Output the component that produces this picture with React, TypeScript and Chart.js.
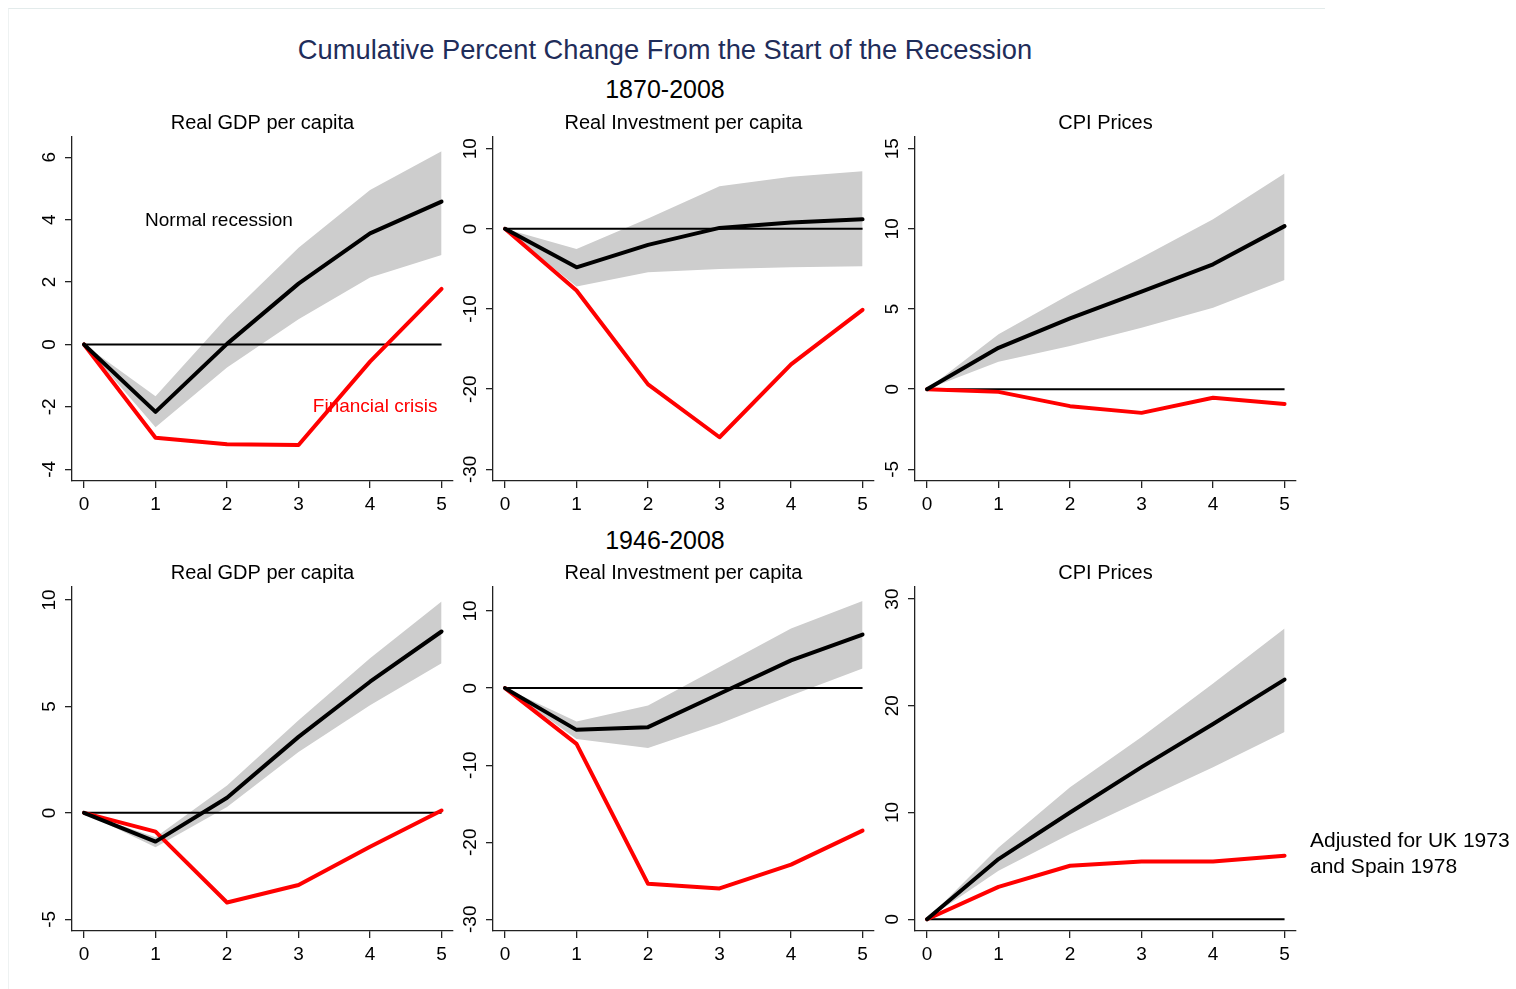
import React, { useEffect, useRef } from "react";
import { Chart, registerables } from "chart.js";

Chart.register(...registerables);

const FONT = '"Liberation Sans", Arial, Helvetica, sans-serif';

// Years since the start of the recession
const HORIZON = [0, 1, 2, 3, 4, 5];
const X_TICKS = [0, 1, 2, 3, 4, 5];
const ZERO = [0, 0, 0, 0, 0, 0];

// 1870-2008: real GDP per capita
const GDP_A_NORMAL = [0, -2.16, 0.02, 1.95, 3.56, 4.58];
const GDP_A_LOW = [0, -2.65, -0.74, 0.81, 2.15, 2.87];
const GDP_A_HIGH = [0, -1.66, 0.87, 3.1, 4.95, 6.19];
const GDP_A_CRISIS = [0, -2.99, -3.2, -3.22, -0.55, 1.78];
const GDP_A_TICKS = [-4, -2, 0, 2, 4, 6];

// 1870-2008: real investment per capita
const INV_A_NORMAL = [0, -4.8, -2.0, 0.12, 0.8, 1.2];
const INV_A_LOW = [0, -7.2, -5.4, -5.0, -4.8, -4.67];
const INV_A_HIGH = [0, -2.5, 1.3, 5.3, 6.5, 7.2];
const INV_A_CRISIS = [0, -7.7, -19.4, -26.0, -16.9, -10.1];
const INV_TICKS = [-30, -20, -10, 0, 10];

// 1870-2008: CPI prices
const CPI_A_NORMAL = [0, 2.58, 4.42, 6.08, 7.79, 10.17];
const CPI_A_LOW = [0, 1.71, 2.69, 3.83, 5.08, 6.81];
const CPI_A_HIGH = [0, 3.42, 5.92, 8.21, 10.6, 13.46];
const CPI_A_CRISIS = [0, -0.17, -1.06, -1.48, -0.54, -0.92];
const CPI_A_TICKS = [-5, 0, 5, 10, 15];

// 1946-2008: real GDP per capita
const GDP_B_NORMAL = [0, -1.35, 0.71, 3.57, 6.16, 8.52];
const GDP_B_LOW = [0, -1.62, 0.27, 2.86, 5.06, 7.03];
const GDP_B_HIGH = [0, -1.15, 1.29, 4.35, 7.26, 9.93];
const GDP_B_CRISIS = [0, -0.88, -4.21, -3.39, -1.59, 0.11];
const GDP_B_TICKS = [-5, 0, 5, 10];

// 1946-2008: real investment per capita
const INV_B_NORMAL = [0, -5.42, -5.07, -0.74, 3.6, 6.95];
const INV_B_LOW = [0, -6.59, -7.76, -4.64, -0.95, 2.53];
const INV_B_HIGH = [0, -4.34, -2.25, 2.73, 7.73, 11.29];
const INV_B_CRISIS = [0, -7.24, -25.4, -26.0, -22.9, -18.5];

// 1946-2008: CPI prices
const CPI_B_NORMAL = [0, 5.64, 10.0, 14.25, 18.3, 22.45];
const CPI_B_LOW = [0, 4.54, 7.99, 11.12, 14.25, 17.54];
const CPI_B_HIGH = [0, 6.73, 12.37, 17.07, 22.08, 27.25];
const CPI_B_CRISIS = [0, 3.04, 5.01, 5.41, 5.41, 5.95];
const CPI_B_TICKS = [0, 10, 20, 30];

type Note = { text: string; x: number; y: number; color: string };

type PanelCfg = {
  title: string;
  normal: number[];
  low: number[];
  high: number[];
  crisis: number[];
  yTicks: number[];
  yMin: number;
  yMax: number;
  left: number;
  top: number;
  notes?: Note[];
};

const PANELS: PanelCfg[] = [
  {
    title: "Real GDP per capita",
    normal: GDP_A_NORMAL, low: GDP_A_LOW, high: GDP_A_HIGH, crisis: GDP_A_CRISIS,
    yTicks: GDP_A_TICKS, yMin: -4.376, yMax: 6.65, left: 0, top: 97,
    notes: [
      { text: "Normal recession", x: 0.853, y: 3.95, color: "#000000" },
      { text: "Financial crisis", x: 3.2, y: -2.0, color: "#ff0000" },
    ],
  },
  {
    title: "Real Investment per capita",
    normal: INV_A_NORMAL, low: INV_A_LOW, high: INV_A_HIGH, crisis: INV_A_CRISIS,
    yTicks: INV_TICKS, yMin: -31.46, yMax: 11.46, left: 421, top: 97,
  },
  {
    title: "CPI Prices",
    normal: CPI_A_NORMAL, low: CPI_A_LOW, high: CPI_A_HIGH, crisis: CPI_A_CRISIS,
    yTicks: CPI_A_TICKS, yMin: -5.73, yMax: 15.73, left: 843, top: 97,
  },
  {
    title: "Real GDP per capita",
    normal: GDP_B_NORMAL, low: GDP_B_LOW, high: GDP_B_HIGH, crisis: GDP_B_CRISIS,
    yTicks: GDP_B_TICKS, yMin: -5.55, yMax: 10.61, left: 0, top: 547,
  },
  {
    title: "Real Investment per capita",
    normal: INV_B_NORMAL, low: INV_B_LOW, high: INV_B_HIGH, crisis: INV_B_CRISIS,
    yTicks: INV_TICKS, yMin: -31.52, yMax: 13.12, left: 421, top: 547,
  },
  {
    title: "CPI Prices",
    normal: CPI_B_NORMAL, low: CPI_B_LOW, high: CPI_B_HIGH, crisis: CPI_B_CRISIS,
    yTicks: CPI_B_TICKS, yMin: -1.1, yMax: 31.13, left: 843, top: 547,
  },
];

const CANVAS_W = 473;
const CANVAS_H = 428;
const AXIS_W = 72;
const AXIS_H = 40;

const toPoints = (ys: number[]) => HORIZON.map((x, i) => ({ x, y: ys[i] }));

function Panel({ cfg }: { cfg: PanelCfg }) {
  const ref = useRef<HTMLCanvasElement | null>(null);

  useEffect(() => {
    const canvas = ref.current;
    if (!canvas) return;

    // rotated y tick labels and in-panel text notes
    const decorations = {
      id: "panelDecorations",
      afterDraw(chart: any) {
        const { ctx, chartArea, scales } = chart;
        const ys = scales.y;
        ctx.save();
        ctx.fillStyle = "#000";
        ctx.font = `19px ${FONT}`;
        ctx.textAlign = "center";
        ctx.textBaseline = "middle";
        ys.ticks.forEach((t: any) => {
          const py = ys.getPixelForValue(t.value);
          ctx.save();
          ctx.translate(chartArea.left - 22.7, py);
          ctx.rotate(-Math.PI / 2);
          ctx.fillText(String(t.label), 0, 0);
          ctx.restore();
        });
        (cfg.notes || []).forEach((n) => {
          ctx.fillStyle = n.color;
          ctx.textAlign = "left";
          ctx.textBaseline = "middle";
          ctx.fillText(n.text, scales.x.getPixelForValue(n.x), ys.getPixelForValue(n.y));
        });
        ctx.restore();
      },
    };

    // higher "order" is painted first (underneath)
    const chart = new Chart(canvas, {
      type: "line",
      data: {
        datasets: [
          {
            label: "lower",
            data: toPoints(cfg.low),
            borderWidth: 0,
            pointRadius: 0,
            fill: false,
            order: 10,
          },
          {
            label: "upper",
            data: toPoints(cfg.high),
            borderWidth: 0,
            pointRadius: 0,
            backgroundColor: "#cdcdcd",
            fill: "-1",
            order: 9,
          },
          {
            label: "zero",
            data: toPoints(ZERO),
            borderColor: "#000000",
            borderWidth: 2,
            pointRadius: 0,
            fill: false,
            order: 3,
          },
          {
            label: "Financial crisis",
            data: toPoints(cfg.crisis),
            borderColor: "#ff0000",
            borderWidth: 4,
            pointRadius: 0,
            borderJoinStyle: "round",
            borderCapStyle: "round",
            fill: false,
            order: 2,
          },
          {
            label: "Normal recession",
            data: toPoints(cfg.normal),
            borderColor: "#000000",
            borderWidth: 4,
            pointRadius: 0,
            borderJoinStyle: "round",
            borderCapStyle: "round",
            fill: false,
            order: 1,
          },
        ],
      },
      options: {
        responsive: false,
        maintainAspectRatio: false,
        animation: false,
        events: [],
        layout: { padding: { top: 13, left: 0, right: 20, bottom: 5 } },
        plugins: {
          legend: { display: false },
          tooltip: { enabled: false },
          title: {
            display: true,
            text: cfg.title,
            fullSize: false,
            color: "#000",
            font: { family: FONT, size: 20, weight: "normal", lineHeight: 1.2 },
            padding: { top: 0, bottom: 2 },
          },
        },
        scales: {
          x: {
            type: "linear",
            min: -0.168,
            max: 5.16,
            afterBuildTicks: (s: any) => {
              s.ticks = X_TICKS.map((v) => ({ value: v }));
            },
            afterFit: (s: any) => {
              s.height = AXIS_H;
            },
            grid: {
              display: true,
              drawOnChartArea: false,
              drawTicks: true,
              tickLength: 7,
              color: "#222",
              lineWidth: 1.3,
            },
            border: { display: true, color: "#222", width: 1.3 },
            ticks: {
              color: "#000",
              padding: 5,
              maxRotation: 0,
              font: { family: FONT, size: 19 },
              callback: (v: any) => String(v),
            },
          },
          y: {
            type: "linear",
            min: cfg.yMin,
            max: cfg.yMax,
            afterBuildTicks: (s: any) => {
              s.ticks = cfg.yTicks.map((v) => ({ value: v }));
            },
            afterFit: (s: any) => {
              s.width = AXIS_W;
            },
            grid: {
              display: true,
              drawOnChartArea: false,
              drawTicks: true,
              tickLength: 7,
              color: "#222",
              lineWidth: 1.3,
            },
            border: { display: true, color: "#222", width: 1.3 },
            ticks: {
              display: false,
              callback: (v: any) => String(v),
            },
          },
        },
      },
      plugins: [decorations],
    } as any);

    return () => chart.destroy();
  }, [cfg]);

  return (
    <canvas
      ref={ref}
      width={CANVAS_W}
      height={CANVAS_H}
      style={{
        position: "absolute",
        left: cfg.left,
        top: cfg.top + 1,
        width: CANVAS_W,
        height: CANVAS_H,
      }}
    />
  );
}

export default function App() {
  const centered = (text: string, cy: number, size: number, color: string) => (
    <div
      style={{
        position: "absolute",
        left: 265,
        width: 800,
        top: cy - 16,
        height: 32,
        lineHeight: "32px",
        textAlign: "center",
        fontFamily: FONT,
        fontSize: size,
        color,
        whiteSpace: "nowrap",
      }}
    >
      {text}
    </div>
  );

  return (
    <div
      style={{
        position: "absolute",
        left: 0,
        top: 0,
        width: 1516,
        height: 989,
        background: "#ffffff",
        overflow: "hidden",
      }}
    >
      <div
        style={{
          position: "absolute",
          left: 8,
          top: 8,
          width: 1316,
          height: 990,
          borderTop: "1px solid #e3ebeb",
          borderLeft: "1px solid #eef2f2",
        }}
      />
      {centered("Cumulative Percent Change From the Start of the Recession", 50, 27.3, "#1f2d5a")}
      {centered("1870-2008", 89, 25, "#000000")}
      {centered("1946-2008", 540, 25, "#000000")}
      {PANELS.map((p, i) => (
        <Panel key={i} cfg={p} />
      ))}
      <div
        style={{
          position: "absolute",
          left: 1310,
          top: 826.7,
          fontFamily: FONT,
          fontSize: 21,
          lineHeight: "26.7px",
          color: "#000",
          whiteSpace: "nowrap",
        }}
      >
        Adjusted for UK 1973
        <br />
        and Spain 1978
      </div>
    </div>
  );
}
